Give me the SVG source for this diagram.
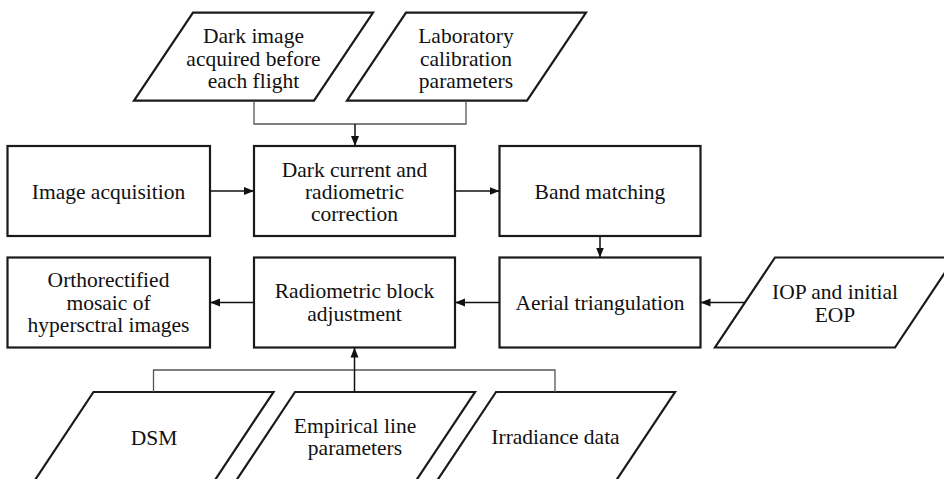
<svg xmlns="http://www.w3.org/2000/svg" width="944" height="479" viewBox="0 0 944 479">
<style>
.box{fill:#fff;stroke:#1a1a1a;stroke-width:2.2}
.t{font-family:'Liberation Serif','Times New Roman',Times,'Nimbus Roman','DejaVu Serif',serif;font-size:21.5px;fill:#111;text-anchor:middle}
.c{fill:none;stroke:#555;stroke-width:1.3}
.a{fill:none;stroke:#111;stroke-width:1.5}
</style>
<defs>
<marker id="ah" viewBox="0 0 10 10" refX="10" refY="5" markerWidth="10" markerHeight="10" markerUnits="userSpaceOnUse" orient="auto">
<path d="M0,1 L10,5 L0,9 Z" fill="#111"/>
</marker>
</defs>
<rect width="944" height="479" fill="#fff"/>
<g id="dark-image">
<polygon class="box" points="193,12.7 373,12.7 314,100.7 134,100.7"/>
<text class="t" x="253.5" y="43">Dark image</text>
<text class="t" x="253.5" y="65.5">acquired before</text>
<text class="t" x="253.5" y="88">each flight</text>
</g>
<g id="lab-calib">
<polygon class="box" points="406,12.7 586,12.7 527,100.7 347,100.7"/>
<text class="t" x="466" y="43">Laboratory</text>
<text class="t" x="466" y="65.5">calibration</text>
<text class="t" x="466" y="88">parameters</text>
</g>
<g id="image-acq">
<rect class="box" x="7.5" y="146" width="202.5" height="90"/>
<text class="t" x="108.5" y="198.5">Image acquisition</text>
</g>
<g id="dark-current">
<rect class="box" x="254" y="146" width="201" height="90"/>
<text class="t" x="354.5" y="176.5">Dark current and</text>
<text class="t" x="354.5" y="198.5">radiometric</text>
<text class="t" x="354.5" y="220.5">correction</text>
</g>
<g id="band-matching">
<rect class="box" x="499.5" y="146" width="201" height="90"/>
<text class="t" x="600" y="198.5">Band matching</text>
</g>
<g id="ortho">
<rect class="box" x="7.5" y="257.5" width="202.5" height="90"/>
<text class="t" x="108.5" y="287">Orthorectified</text>
<text class="t" x="108.5" y="309.5">mosaic of</text>
<text class="t" x="108.5" y="332">hypersctral images</text>
</g>
<g id="radiometric-block">
<rect class="box" x="254" y="257.5" width="201" height="90"/>
<text class="t" x="354.5" y="298">Radiometric block</text>
<text class="t" x="354.5" y="320.5">adjustment</text>
</g>
<g id="aerial">
<rect class="box" x="499.5" y="257.5" width="201" height="90"/>
<text class="t" x="600" y="310">Aerial triangulation</text>
</g>
<g id="iop">
<polygon class="box" points="775,257.5 955,257.5 895,347.5 715,347.5"/>
<text class="t" x="835" y="299">IOP and initial</text>
<text class="t" x="835" y="321.5">EOP</text>
</g>
<g id="dsm">
<polygon class="box" points="93.5,392 273.5,392 215,480 35,480"/>
<text class="t" x="154" y="445">DSM</text>
</g>
<g id="empirical">
<polygon class="box" points="295,392 475,392 416.5,480 236.5,480"/>
<text class="t" x="355" y="433">Empirical line</text>
<text class="t" x="355" y="455">parameters</text>
</g>
<g id="irradiance">
<polygon class="box" points="496,392 675,392 616.5,480 437.5,480"/>
<text class="t" x="555.5" y="444">Irradiance data</text>
</g>
<g id="connectors">
<polyline class="c" points="254,100.7 254,124 466,124 466,100.7"/>
<line class="a" x1="355" y1="124" x2="355" y2="146" marker-end="url(#ah)"/>
<line class="a" x1="210" y1="191" x2="254" y2="191" marker-end="url(#ah)"/>
<line class="a" x1="455" y1="191" x2="499.5" y2="191" marker-end="url(#ah)"/>
<line class="a" x1="600" y1="236" x2="600" y2="257.5" marker-end="url(#ah)"/>
<line class="a" x1="745" y1="302.5" x2="700.5" y2="302.5" marker-end="url(#ah)"/>
<line class="a" x1="499.5" y1="302.5" x2="455" y2="302.5" marker-end="url(#ah)"/>
<line class="a" x1="254" y1="302.5" x2="210" y2="302.5" marker-end="url(#ah)"/>
<polyline class="c" points="153.5,392 153.5,370 555,370 555,392"/>
<line class="a" x1="354.5" y1="392" x2="354.5" y2="347.5" marker-end="url(#ah)"/>
</g>
</svg>
